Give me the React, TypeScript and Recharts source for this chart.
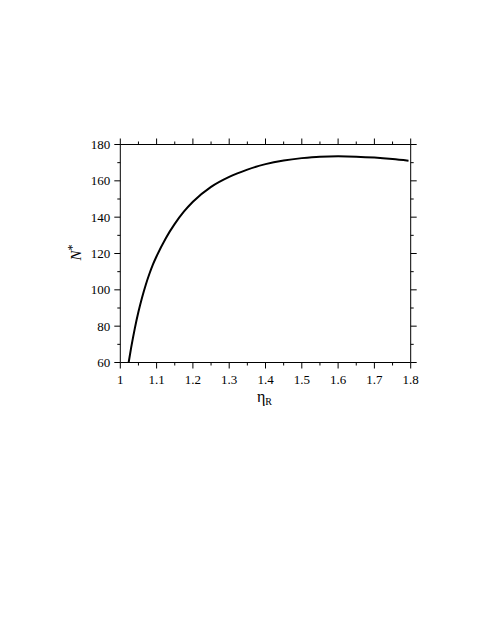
import React from 'react';
import { LineChart, Line, XAxis, YAxis } from 'recharts';

const etaValues = [1.023, 1.03, 1.035, 1.04, 1.05, 1.06, 1.07, 1.08, 1.09, 1.1, 1.125, 1.15, 1.175, 1.2, 1.25, 1.3, 1.35, 1.4, 1.45, 1.5, 1.55, 1.6, 1.65, 1.7, 1.75, 1.794];
const nStarValues = [60, 68.3, 73.7, 78.8, 87.9, 95.8, 102.7, 108.7, 114.0, 118.5, 128.3, 136.3, 143.0, 148.5, 156.7, 162.2, 166.2, 169.2, 171.2, 172.5, 173.3, 173.5, 173.3, 172.8, 172.0, 171.1];

const xTicks = [1, 1.05, 1.1, 1.15, 1.2, 1.25, 1.3, 1.35, 1.4, 1.45, 1.5, 1.55, 1.6, 1.65, 1.7, 1.75, 1.8];
const yTicks = [60, 70, 80, 90, 100, 110, 120, 130, 140, 150, 160, 170, 180];

const data = etaValues.map((eta, i) => ({ eta, n: nStarValues[i] }));

const FONT = "'Liberation Serif', 'Times New Roman', Times, serif";
const MAJ = 6;
const MIN = 3;

const isMajorX = (v: number) => Math.abs(v * 10 - Math.round(v * 10)) < 1e-6;
const isMajorY = (v: number) => Math.abs(v / 20 - Math.round(v / 20)) < 1e-6;
const fmtX = (v: number) => (Math.abs(v - Math.round(v)) < 1e-6 ? String(Math.round(v)) : v.toFixed(1));

const BottomTick = (props: any) => {
  const { x, y, payload } = props;
  const major = isMajorX(payload.value);
  return (
    <g>
      <line x1={x} x2={x} y1={y} y2={y + (major ? MAJ : MIN)} stroke="#000" strokeWidth={1} />
      {major && (
        <text x={x} y={y + 21.8} textAnchor="middle" style={{ fontFamily: FONT, fontSize: 13 }} fill="#000">
          {fmtX(payload.value)}
        </text>
      )}
    </g>
  );
};

const TopTick = (props: any) => {
  const { x, y, payload } = props;
  const major = isMajorX(payload.value);
  return <line x1={x} x2={x} y1={y} y2={y - (major ? MAJ : MIN)} stroke="#000" strokeWidth={1} />;
};

const LeftTick = (props: any) => {
  const { x, y, payload } = props;
  const major = isMajorY(payload.value);
  return (
    <g>
      <line x1={x} x2={x - (major ? MAJ : MIN)} y1={y} y2={y} stroke="#000" strokeWidth={1} />
      {major && (
        <text x={x - 10} y={y + 4.5} textAnchor="end" style={{ fontFamily: FONT, fontSize: 13 }} fill="#000">
          {payload.value}
        </text>
      )}
    </g>
  );
};

const RightTick = (props: any) => {
  const { x, y, payload } = props;
  const major = isMajorY(payload.value);
  return <line x1={x} x2={x + (major ? MAJ : MIN)} y1={y} y2={y} stroke="#000" strokeWidth={1} />;
};

const YLabel = (props: any) => {
  const vb = props.viewBox || {};
  const bx = vb.x + (vb.width || 0) - 39.5;
  const cy = vb.y + vb.height / 2 - 1;
  return (
    <text x={0} y={0} transform={`translate(${bx},${cy}) rotate(-90)`} textAnchor="middle" style={{ fontFamily: FONT, fontSize: 15 }} fill="#000">
      <tspan fontStyle="italic">N</tspan>
      <tspan dy={-5} style={{ fontSize: 12 }}>*</tspan>
    </text>
  );
};

const XLabel = (props: any) => {
  const vb = props.viewBox || {};
  const cx = vb.x + vb.width / 2 - 1;
  const by = vb.y + 39;
  return (
    <text x={cx} y={by} textAnchor="middle" style={{ fontFamily: FONT, fontSize: 16 }} fill="#000">
      η<tspan dy={3} style={{ fontSize: 10 }}>R</tspan>
    </text>
  );
};

export default function App() {
  return (
    <div style={{ position: 'absolute', left: 0, top: 0, width: 485, height: 631, background: '#fff' }}>
      <LineChart
        width={485}
        height={631}
        data={data}
        margin={{ top: 134.5, right: 64.3, bottom: 228.5, left: 60.3 }}
      >
        <XAxis
          xAxisId="bottom"
          dataKey="eta"
          type="number"
          domain={[1, 1.8]}
          allowDataOverflow
          ticks={xTicks}
          interval={0}
          orientation="bottom"
          height={40}
          tickSize={0}
          tickMargin={0}
          tickLine={false}
          axisLine={{ stroke: '#000', strokeWidth: 1 }}
          tick={<BottomTick />}
          label={<XLabel />}
        />
        <XAxis
          xAxisId="top"
          dataKey="eta"
          type="number"
          domain={[1, 1.8]}
          allowDataOverflow
          ticks={xTicks}
          interval={0}
          orientation="top"
          height={10}
          tickSize={0}
          tickMargin={0}
          tickLine={false}
          axisLine={{ stroke: '#000', strokeWidth: 1 }}
          tick={<TopTick />}
        />
        <YAxis
          yAxisId="left"
          type="number"
          domain={[60, 180]}
          allowDataOverflow
          ticks={yTicks}
          interval={0}
          orientation="left"
          width={60}
          tickSize={0}
          tickMargin={0}
          tickLine={false}
          axisLine={{ stroke: '#000', strokeWidth: 1 }}
          tick={<LeftTick />}
          label={<YLabel />}
        />
        <YAxis
          yAxisId="right"
          type="number"
          domain={[60, 180]}
          allowDataOverflow
          ticks={yTicks}
          interval={0}
          orientation="right"
          width={10}
          tickSize={0}
          tickMargin={0}
          tickLine={false}
          axisLine={{ stroke: '#000', strokeWidth: 1 }}
          tick={<RightTick />}
        />
        <Line
          xAxisId="bottom"
          yAxisId="left"
          dataKey="n"
          type="monotone"
          stroke="#000"
          strokeWidth={2}
          dot={false}
          activeDot={false}
          isAnimationActive={false}
        />
      </LineChart>
    </div>
  );
}
